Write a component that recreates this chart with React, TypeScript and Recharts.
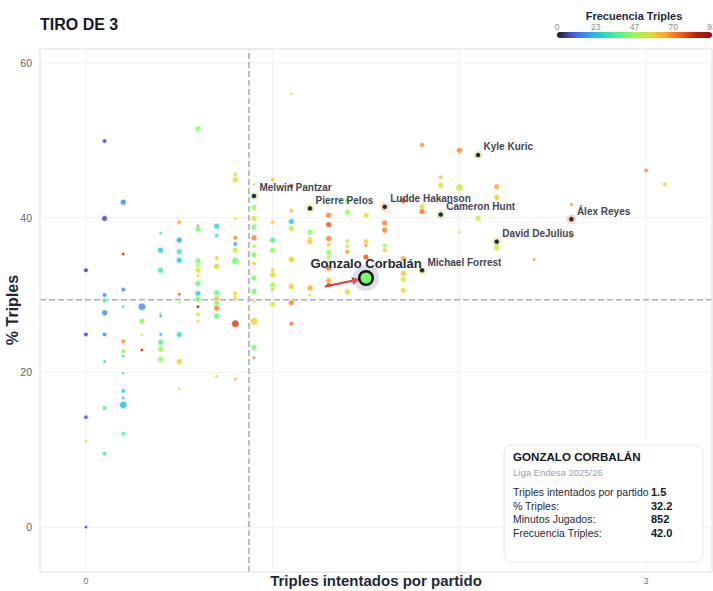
import React from 'react';
import { ScatterChart, Scatter, XAxis, YAxis, CartesianGrid, ReferenceLine } from 'recharts';

// [% triples, frecuencia triples, minutos]
type Pt = [number, number, number];

const col00: Pt[] = [[33.2, 4, 150], [24.9, 6, 150], [14.2, 9, 150], [11.1, 50, 40], [0.0, 5, 40]];
const col01: Pt[] = [[49.9, 6, 150], [39.9, 7, 350], [30.0, 17, 150], [29.3, 35, 150], [27.7, 16, 350], [24.9, 17, 150], [21.4, 25, 40], [15.4, 35, 150], [9.5, 35, 150]];
const col02: Pt[] = [[42.0, 15, 350], [35.3, 84, 40], [30.7, 17, 150], [28.5, 35, 40], [24.0, 68, 150], [22.9, 57, 40], [22.7, 45, 150], [22.1, 28, 40], [19.9, 35, 40], [17.6, 25, 150], [16.7, 25, 40], [15.8, 22, 700], [12.1, 35, 150]];
const col03: Pt[] = [[28.5, 17, 700], [26.6, 45, 350], [24.9, 50, 40], [22.9, 84, 40]];
const col04: Pt[] = [[38.0, 30, 40], [35.8, 25, 350], [33.2, 33, 350], [27.6, 50, 40], [27.3, 20, 40], [24.9, 20, 40], [23.9, 36, 350], [23.0, 45, 350], [21.7, 45, 350]];
const col05: Pt[] = [[39.4, 64, 150], [37.1, 20, 350], [35.6, 32, 350], [34.5, 25, 350], [30.1, 76, 40], [29.1, 52, 40], [24.9, 30, 350], [21.4, 58, 350], [17.9, 52, 40]];
const col06: Pt[] = [[51.5, 45, 350], [38.9, 76, 40], [38.5, 42, 350], [34.4, 42, 350], [33.8, 50, 150], [33.2, 54, 350], [32.5, 60, 40], [31.5, 40, 350], [30.2, 28, 350], [29.5, 42, 350], [28.5, 90, 40], [27.5, 52, 150], [26.6, 60, 40]];
const col07: Pt[] = [[38.9, 28, 350], [37.7, 33, 150], [34.8, 58, 150], [33.7, 58, 350], [30.3, 38, 350], [29.5, 62, 350], [28.9, 42, 350], [28.3, 70, 350], [27.3, 38, 350], [19.5, 52, 40]];
const col08: Pt[] = [[45.6, 54, 150], [44.9, 54, 350], [39.9, 54, 40], [37.4, 70, 150], [36.6, 22, 150], [35.8, 55, 350], [34.4, 42, 700], [30.2, 58, 150], [29.6, 57, 150], [26.3, 80, 700], [19.1, 64, 40]];
const col09: Pt[] = [[44.3, 52, 40], [41.3, 45, 350], [39.9, 55, 350], [38.8, 42, 350], [37.4, 70, 350], [36.3, 54, 150], [35.2, 42, 350], [34.1, 58, 150], [32.2, 42, 350], [30.5, 42, 350], [29.2, 58, 40], [26.6, 58, 700], [23.2, 42, 350], [21.9, 72, 40]];
const col10: Pt[] = [[44.9, 60, 150], [39.4, 58, 150], [37.1, 35, 350], [35.8, 45, 350], [33.2, 57, 150], [32.6, 58, 350], [31.3, 48, 350], [30.7, 57, 150], [28.8, 52, 350]];
const col11: Pt[] = [[56.0, 52, 40], [44.1, 82, 150], [40.9, 60, 150], [39.5, 25, 350], [38.6, 52, 350], [34.6, 60, 350], [31.1, 60, 350], [29.0, 70, 350], [26.3, 72, 150]];
const col12: Pt[] = [[38.1, 45, 350], [37.3, 58, 150], [36.9, 58, 350], [30.9, 64, 350], [30.0, 54, 40]];
const col13: Pt[] = [[40.3, 70, 350], [39.1, 76, 350], [37.3, 70, 350], [36.5, 58, 150], [35.5, 45, 350], [34.9, 52, 150], [33.5, 72, 350], [32.1, 50, 150], [31.8, 64, 350], [31.3, 80, 150]];
const col14: Pt[] = [[42.2, 45, 350], [40.7, 45, 350], [37.0, 52, 150], [36.3, 54, 150], [35.6, 68, 150], [30.4, 55, 350]];
const col15: Pt[] = [[40.3, 55, 350], [36.9, 58, 350], [36.4, 70, 40], [34.9, 76, 350]];
const col16: Pt[] = [[39.3, 70, 350], [38.4, 70, 350], [36.4, 45, 150], [35.8, 58, 150]];
const col17: Pt[] = [[42.2, 76, 350], [34.7, 64, 350], [32.8, 60, 350], [32.0, 55, 350], [30.6, 55, 350]];
const col18: Pt[] = [[49.4, 70, 150], [41.4, 54, 350], [40.8, 72, 350]];
const col19: Pt[] = [[45.2, 58, 150], [44.2, 52, 350], [42.4, 58, 40]];
const col20: Pt[] = [[48.7, 70, 350], [43.9, 52, 700], [38.1, 58, 40], [33.9, 70, 40]];
const col21: Pt[] = [[39.9, 52, 350]];
const col22: Pt[] = [[44.0, 64, 350], [42.6, 58, 350], [36.1, 54, 350]];
const col24: Pt[] = [[34.6, 70, 40]];
const col26: Pt[] = [[41.7, 70, 40], [37.7, 58, 350]];
const col30: Pt[] = [[46.1, 68, 150]];
const col31: Pt[] = [[44.3, 58, 150]];

const attemptCols: [number, Pt[]][] = [
  [0.0, col00], [0.1, col01], [0.2, col02], [0.3, col03], [0.4, col04], [0.5, col05],
  [0.6, col06], [0.7, col07], [0.8, col08], [0.9, col09], [1.0, col10], [1.1, col11],
  [1.2, col12], [1.3, col13], [1.4, col14], [1.5, col15], [1.6, col16], [1.7, col17],
  [1.8, col18], [1.9, col19], [2.0, col20], [2.1, col21], [2.2, col22], [2.4, col24],
  [2.6, col26], [3.0, col30], [3.1, col31],
];

// comparison players
const hlNames = ['Melwin Pantzar', 'Pierre Pelos', 'Ludde Hakanson', 'Cameron Hunt', 'Kyle Kuric', 'Álex Reyes', 'David DeJulius', 'Michael Forrest'];
const hlAttempts = [0.9, 1.2, 1.6, 1.9, 2.1, 2.6, 2.2, 1.8];
const hlPct = [42.8, 41.2, 41.4, 40.4, 48.1, 39.8, 36.9, 33.2];
const hlFreq = [45, 57, 68, 45, 58, 72, 58, 57];

const player = { name: 'Gonzalo Corbalán', attempts: 1.5, pct: 32.2, minutes: 852, freq: 42.0 };
const playerPrev = { attempts: 1.28, pct: 31.1 };

const refAttempts = 0.873;
const refPct = 29.4;
const freqTicks = [0, 23, 47, 70, 93];
const FREQ_MAX = 93;

const points = attemptCols.flatMap(([x, pts]) => pts.map(([y, freq, min]) => ({ x, y, freq, min })));
const highlights = hlNames.map((name, i) => ({ name, x: hlAttempts[i], y: hlPct[i], freq: hlFreq[i] }));
const arrowData = [
  { x: playerPrev.attempts, y: playerPrev.pct, kind: 'prev' },
  { x: player.attempts, y: player.pct, kind: 'cur' },
];

// turbo colormap (polynomial approximation)
const turbo = (t: number) => {
  const x = Math.max(0, Math.min(1, t));
  const r = 0.13572138 + x * (4.6153926 + x * (-42.66032258 + x * (132.13108234 + x * (-152.94239396 + x * 59.28637943))));
  const g = 0.09140261 + x * (2.19418839 + x * (4.84296658 + x * (-14.18503333 + x * (4.27729857 + x * 2.82956604))));
  const b = 0.1066733 + x * (12.64194608 + x * (-60.58204836 + x * (110.36276771 + x * (-89.90310912 + x * 27.34824973))));
  const c = (v: number) => Math.round(Math.max(0, Math.min(1, v)) * 255);
  return `rgb(${c(r)},${c(g)},${c(b)})`;
};

const FONT = '"Liberation Sans", Arial, Helvetica, sans-serif';

const DotShape = (p: any) => {
  const { cx, cy, payload } = p;
  if (cx == null || cy == null) return <g />;
  const r = 1.1 + Math.sqrt(payload.min) / 10;
  return <circle cx={cx} cy={cy} r={r} fill={turbo(payload.freq / FREQ_MAX)} fillOpacity={0.82} stroke="#ffffff" strokeWidth={0.6} />;
};

const HighlightShape = (p: any) => {
  const { cx, cy, payload } = p;
  if (cx == null || cy == null) return <g />;
  return (
    <g>
      <circle cx={cx} cy={cy} r={4.8} fill={turbo(payload.freq / FREQ_MAX)} fillOpacity={0.3} />
      <circle cx={cx} cy={cy} r={2.6} fill="#1f2937" stroke="#ffffff" strokeWidth={0.6} />
      <text x={cx + 5.5} y={cy - 4.5} fontSize={10} fontWeight="bold" fill="#3f4653" fontFamily={FONT}>{payload.name}</text>
    </g>
  );
};

let arrowStart: { x: number; y: number } | null = null;
const ArrowShape = (p: any) => {
  const { cx, cy, payload } = p;
  if (cx == null || cy == null) return <g />;
  if (payload.kind === 'prev') {
    arrowStart = { x: cx, y: cy };
    return <g />;
  }
  if (!arrowStart) return <g />;
  const dx = cx - arrowStart.x;
  const dy = cy - arrowStart.y;
  const len = Math.hypot(dx, dy) || 1;
  const ux = dx / len, uy = dy / len;
  const tx = cx - ux * 6, ty = cy - uy * 6;
  const bx = tx - ux * 8, by = ty - uy * 8;
  const px = -uy * 4, py = ux * 4;
  return (
    <g>
      <line x1={arrowStart.x} y1={arrowStart.y} x2={bx} y2={by} stroke="#e53935" strokeWidth={2} />
      <polygon points={`${tx},${ty} ${bx + px},${by + py} ${bx - px},${by - py}`} fill="#e53935" />
    </g>
  );
};

const PlayerShape = (p: any) => {
  const { cx, cy } = p;
  if (cx == null || cy == null) return <g />;
  return (
    <g>
      <circle cx={cx} cy={cy} r={13} fill="#9ca3af" fillOpacity={0.35} />
      <circle cx={cx} cy={cy} r={6.8} fill={turbo(player.freq / FREQ_MAX)} stroke="#111111" strokeWidth={2.5} />
      <text x={cx} y={cy - 10.5} textAnchor="middle" fontSize={13} fontWeight="bold" fill="#1f2937" fontFamily={FONT}>{player.name}</text>
    </g>
  );
};

const YTick = (p: any) => (
  <text x={p.x} y={p.y} dy={4} textAnchor="end" fontSize={10.5} fill="#60656e" fontFamily={FONT}>{p.payload.value}</text>
);
// ticks 1 and 2 sit under the axis title in the original, only 0 and 3 show
const XTick = (p: any) =>
  p.payload.value === 0 || p.payload.value === 3 ? (
    <text x={p.x} y={584} textAnchor="middle" fontSize={9} fill="#70757e" fontFamily={FONT}>{p.payload.value}</text>
  ) : (
    <g />
  );

const infoRows: [string, string][] = [
  ['Triples intentados por partido', player.attempts.toFixed(1)],
  ['% Triples:', player.pct.toFixed(1)],
  ['Minutos Jugados:', String(player.minutes)],
  ['Frecuencia Triples:', player.freq.toFixed(1)],
];

export default function App() {
  const gradStops = Array.from({ length: 11 }, (_, i) => i / 10);
  return (
    <div style={{ position: 'absolute', left: 0, top: 0, width: 713, height: 591, background: '#ffffff', fontFamily: FONT }}>
      <ScatterChart width={713} height={591} margin={{ top: 49, right: 1, bottom: 0, left: 0 }}>
        <CartesianGrid stroke="#eef0f4" strokeWidth={1} />
        <XAxis
          type="number"
          dataKey="x"
          domain={[-0.246, 3.353]}
          ticks={[0, 1, 2, 3]}
          allowDataOverflow
          height={19}
          axisLine={false}
          tickLine={false}
          tick={<XTick />}
        />
        <YAxis
          type="number"
          dataKey="y"
          domain={[-5.8, 61.8]}
          ticks={[0, 20, 40, 60]}
          allowDataOverflow
          width={40}
          axisLine={false}
          tickLine={false}
          tick={<YTick />}
        />
        <ReferenceLine x={refAttempts} stroke="#b8bcc4" strokeWidth={2} strokeDasharray="6 3" />
        <ReferenceLine y={refPct} stroke="#a9afc0" strokeWidth={1.5} strokeDasharray="6 3" />
        <Scatter data={points} shape={DotShape} isAnimationActive={false} />
        <Scatter data={highlights} shape={HighlightShape} isAnimationActive={false} />
        <Scatter data={arrowData} shape={ArrowShape} isAnimationActive={false} />
        <Scatter data={[{ x: player.attempts, y: player.pct }]} shape={PlayerShape} isAnimationActive={false} />
      </ScatterChart>

      <svg width={713} height={591} style={{ position: 'absolute', left: 0, top: 0, pointerEvents: 'none' }}>
        <defs>
          <linearGradient id="turboGrad" x1="0" y1="0" x2="1" y2="0">
            {gradStops.map((s) => (
              <stop key={s} offset={s} stopColor={turbo(s)} />
            ))}
          </linearGradient>
        </defs>
        <rect x={40} y={49} width={672} height={523} fill="none" stroke="#e3e6eb" strokeWidth={1} />
        <text x={40} y={30} fontSize={16} fontWeight="bold" fill="#111827" fontFamily={FONT}>TIRO DE 3</text>

        <text x={634} y={20} textAnchor="middle" fontSize={11} fontWeight="bold" fill="#1f2937" fontFamily={FONT}>Frecuencia Triples</text>
        {freqTicks.map((t, i) => (
          <text key={t} x={557 + (i * 155) / 4} y={30} textAnchor="middle" fontSize={8.5} fill="#8a8f98" fontFamily={FONT}>{t}</text>
        ))}
        <rect x={557} y={32} width={155} height={6} rx={3} fill="url(#turboGrad)" />

        <text x={376} y={586} textAnchor="middle" fontSize={15} fontWeight="bold" fill="#1f2937" fontFamily={FONT}>Triples intentados por partido</text>
        <text x={13} y={310} textAnchor="middle" fontSize={16} fontWeight="bold" fill="#1f2937" fontFamily={FONT} transform="rotate(-90 13 310)" dy={5}>% Triples</text>

        <rect x={504} y={445} width={199} height={117} rx={8} fill="#ffffff" fillOpacity={0.96} stroke="#e3e6eb" strokeWidth={1} />
        <text x={513} y={461} fontSize={11.6} fontWeight="bold" fill="#111827" fontFamily={FONT}>GONZALO CORBALÁN</text>
        <text x={513} y={476} fontSize={9.5} fill="#9ca3af" fontFamily={FONT}>Liga Endesa 2025/26</text>
        {infoRows.map(([label, value], i) => (
          <g key={label}>
            <text x={513} y={496 + i * 13.5} fontSize={10.5} fill="#1f2937" fontFamily={FONT}>{label}</text>
            <text x={651} y={496 + i * 13.5} fontSize={11} fontWeight="bold" fill="#111827" fontFamily={FONT}>{value}</text>
          </g>
        ))}
      </svg>
    </div>
  );
}
